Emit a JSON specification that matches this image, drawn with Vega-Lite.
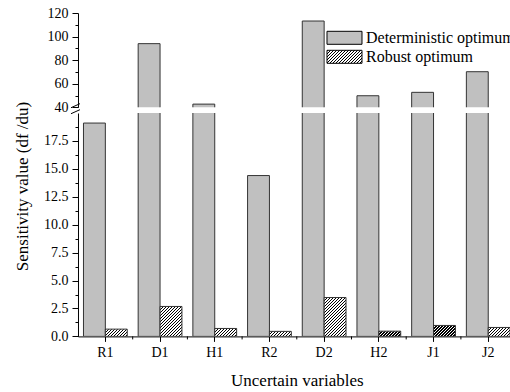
{
  "$schema": "https://vega.github.io/schema/vega-lite/v6.json",
  "padding": {"left": 13, "top": 6, "right": 0, "bottom": 0},
  "spacing": 5,
  "bounds": "flush",
  "resolve": {"scale": {"fill": "independent"}, "legend": {"fill": "independent"}},
  "config": {
    "font": "Liberation Serif",
    "view": {"stroke": null},
    "axis": {
      "grid": false,
      "domainColor": "black",
      "tickColor": "black",
      "labelColor": "black",
      "titleColor": "black",
      "labelFont": "Liberation Serif",
      "titleFont": "Liberation Serif",
      "labelFontSize": 14,
      "titleFontSize": 17,
      "titleFontWeight": "normal",
      "labelOverlap": false
    },
    "legend": {
      "labelFont": "Liberation Serif",
      "labelFontSize": 16,
      "labelColor": "black"
    }
  },
  "params": [
    {
      "name": "hatch",
      "value": [
        {"offset": 0, "color": "#000"}, {"offset": 0.015833, "color": "#000"}, {"offset": 0.015833, "color": "#fff"}, {"offset": 0.041667, "color": "#fff"},
        {"offset": 0.041667, "color": "#000"}, {"offset": 0.0575, "color": "#000"}, {"offset": 0.0575, "color": "#fff"}, {"offset": 0.083333, "color": "#fff"},
        {"offset": 0.083333, "color": "#000"}, {"offset": 0.099167, "color": "#000"}, {"offset": 0.099167, "color": "#fff"}, {"offset": 0.125, "color": "#fff"},
        {"offset": 0.125, "color": "#000"}, {"offset": 0.140833, "color": "#000"}, {"offset": 0.140833, "color": "#fff"}, {"offset": 0.166667, "color": "#fff"},
        {"offset": 0.166667, "color": "#000"}, {"offset": 0.1825, "color": "#000"}, {"offset": 0.1825, "color": "#fff"}, {"offset": 0.208333, "color": "#fff"},
        {"offset": 0.208333, "color": "#000"}, {"offset": 0.224167, "color": "#000"}, {"offset": 0.224167, "color": "#fff"}, {"offset": 0.25, "color": "#fff"},
        {"offset": 0.25, "color": "#000"}, {"offset": 0.265833, "color": "#000"}, {"offset": 0.265833, "color": "#fff"}, {"offset": 0.291667, "color": "#fff"},
        {"offset": 0.291667, "color": "#000"}, {"offset": 0.3075, "color": "#000"}, {"offset": 0.3075, "color": "#fff"}, {"offset": 0.333333, "color": "#fff"},
        {"offset": 0.333333, "color": "#000"}, {"offset": 0.349167, "color": "#000"}, {"offset": 0.349167, "color": "#fff"}, {"offset": 0.375, "color": "#fff"},
        {"offset": 0.375, "color": "#000"}, {"offset": 0.390833, "color": "#000"}, {"offset": 0.390833, "color": "#fff"}, {"offset": 0.416667, "color": "#fff"},
        {"offset": 0.416667, "color": "#000"}, {"offset": 0.4325, "color": "#000"}, {"offset": 0.4325, "color": "#fff"}, {"offset": 0.458333, "color": "#fff"},
        {"offset": 0.458333, "color": "#000"}, {"offset": 0.474167, "color": "#000"}, {"offset": 0.474167, "color": "#fff"}, {"offset": 0.5, "color": "#fff"},
        {"offset": 0.5, "color": "#000"}, {"offset": 0.515833, "color": "#000"}, {"offset": 0.515833, "color": "#fff"}, {"offset": 0.541667, "color": "#fff"},
        {"offset": 0.541667, "color": "#000"}, {"offset": 0.5575, "color": "#000"}, {"offset": 0.5575, "color": "#fff"}, {"offset": 0.583333, "color": "#fff"},
        {"offset": 0.583333, "color": "#000"}, {"offset": 0.599167, "color": "#000"}, {"offset": 0.599167, "color": "#fff"}, {"offset": 0.625, "color": "#fff"},
        {"offset": 0.625, "color": "#000"}, {"offset": 0.640833, "color": "#000"}, {"offset": 0.640833, "color": "#fff"}, {"offset": 0.666667, "color": "#fff"},
        {"offset": 0.666667, "color": "#000"}, {"offset": 0.6825, "color": "#000"}, {"offset": 0.6825, "color": "#fff"}, {"offset": 0.708333, "color": "#fff"},
        {"offset": 0.708333, "color": "#000"}, {"offset": 0.724167, "color": "#000"}, {"offset": 0.724167, "color": "#fff"}, {"offset": 0.75, "color": "#fff"},
        {"offset": 0.75, "color": "#000"}, {"offset": 0.765833, "color": "#000"}, {"offset": 0.765833, "color": "#fff"}, {"offset": 0.791667, "color": "#fff"},
        {"offset": 0.791667, "color": "#000"}, {"offset": 0.8075, "color": "#000"}, {"offset": 0.8075, "color": "#fff"}, {"offset": 0.833333, "color": "#fff"},
        {"offset": 0.833333, "color": "#000"}, {"offset": 0.849167, "color": "#000"}, {"offset": 0.849167, "color": "#fff"}, {"offset": 0.875, "color": "#fff"},
        {"offset": 0.875, "color": "#000"}, {"offset": 0.890833, "color": "#000"}, {"offset": 0.890833, "color": "#fff"}, {"offset": 0.916667, "color": "#fff"},
        {"offset": 0.916667, "color": "#000"}, {"offset": 0.9325, "color": "#000"}, {"offset": 0.9325, "color": "#fff"}, {"offset": 0.958333, "color": "#fff"},
        {"offset": 0.958333, "color": "#000"}, {"offset": 0.974167, "color": "#000"}, {"offset": 0.974167, "color": "#fff"}, {"offset": 1, "color": "#fff"}
      ]
    }
  ],
  "datasets": {
    "bars": [
      {"cat": "R1", "series": "Deterministic optimum", "value": 19.1},
      {"cat": "R1", "series": "Robust optimum", "value": 0.65},
      {"cat": "D1", "series": "Deterministic optimum", "value": 94},
      {"cat": "D1", "series": "Robust optimum", "value": 2.68},
      {"cat": "H1", "series": "Deterministic optimum", "value": 42.7},
      {"cat": "H1", "series": "Robust optimum", "value": 0.71},
      {"cat": "R2", "series": "Deterministic optimum", "value": 14.4},
      {"cat": "R2", "series": "Robust optimum", "value": 0.45},
      {"cat": "D2", "series": "Deterministic optimum", "value": 113.2},
      {"cat": "D2", "series": "Robust optimum", "value": 3.48},
      {"cat": "H2", "series": "Deterministic optimum", "value": 49.8},
      {"cat": "H2", "series": "Robust optimum", "value": 0.47},
      {"cat": "J1", "series": "Deterministic optimum", "value": 52.7},
      {"cat": "J1", "series": "Robust optimum", "value": 0.98},
      {"cat": "J2", "series": "Deterministic optimum", "value": 70.2},
      {"cat": "J2", "series": "Robust optimum", "value": 0.8}
    ],
    "breakmark": [{"cat": "R1"}]
  },
  "vconcat": [
    {
      "width": 437.6,
      "height": 94.3,
      "layer": [
        {
          "data": {"name": "bars"},
          "mark": {"type": "bar", "clip": true, "stroke": "#333", "strokeWidth": 1},
          "encoding": {
            "x": {
              "field": "cat", "type": "nominal",
              "sort": ["R1", "D1", "H1", "R2", "D2", "H2", "J1", "J2"],
              "scale": {"paddingInner": 0.2, "paddingOuter": 0.1},
              "axis": null
            },
            "xOffset": {"field": "series", "type": "nominal", "sort": ["Deterministic optimum", "Robust optimum"]},
            "y": {
              "field": "value", "type": "quantitative",
              "scale": {"domain": [40, 120], "zero": false, "nice": false},
              "axis": {
                "title": null,
                "values": [40, 50, 60, 70, 80, 90, 100, 110, 120],
                "labelExpr": "datum.value % 20 == 0 ? datum.label : ''",
                "tickSize": {"condition": {"test": "datum.value % 20 == 0", "value": 6}, "value": 3},
                "labelPadding": 4,
                "labelOverlap": false
              }
            },
            "y2": {"datum": 0},
            "fill": {
              "field": "series", "type": "nominal",
              "scale": {
                "domain": ["Deterministic optimum", "Robust optimum"],
                "range": ["#c0c0c0", {"expr": "{gradient:'linear',x1:0,y1:0,x2:1.808,y2:0.671,stops:hatch}"}]
              },
              "legend": {
                "title": null,
                "orient": "none",
                "legendX": 256,
                "legendY": 14.3,
                "padding": 0,
                "rowPadding": 0,
                "symbolType": "M-1.75,-0.65H1.75V0.65H-1.75Z",
                "symbolSize": 400,
                "symbolStrokeColor": "black",
                "symbolStrokeWidth": 1,
                "labelOffset": 11
              }
            }
          }
        },
        {
          "data": {"name": "breakmark"},
          "mark": {"type": "point", "shape": "M-1,0.45L1,-0.45", "size": 81, "filled": false, "stroke": "black", "strokeWidth": 1, "opacity": 1, "xOffset": -8, "yOffset": -1.6, "clip": false},
          "encoding": {
            "x": {"field": "cat", "type": "nominal", "bandPosition": 0, "sort": ["R1", "D1", "H1", "R2", "D2", "H2", "J1", "J2"]},
            "y": {
              "datum": 40, "type": "quantitative",
              "axis": {
                "title": null,
                "values": [40, 50, 60, 70, 80, 90, 100, 110, 120],
                "labelExpr": "datum.value % 20 == 0 ? datum.label : ''",
                "tickSize": {"condition": {"test": "datum.value % 20 == 0", "value": 6}, "value": 3},
                "labelPadding": 4,
                "labelOverlap": false
              }
            }
          }
        }
      ]
    },
    {
      "width": 437.6,
      "height": 223.4,
      "layer": [
        {
          "data": {"name": "bars"},
          "mark": {"type": "bar", "clip": true, "stroke": "#333", "strokeWidth": 1},
          "encoding": {
            "x": {
              "field": "cat", "type": "nominal",
              "sort": ["R1", "D1", "H1", "R2", "D2", "H2", "J1", "J2"],
              "scale": {"paddingInner": 0.2, "paddingOuter": 0.1},
              "axis": {"title": "Uncertain variables", "labelAngle": 0, "tickSize": 5, "labelPadding": 4, "titlePadding": 13}
            },
            "xOffset": {"field": "series", "type": "nominal", "sort": ["Deterministic optimum", "Robust optimum"]},
            "y": {
              "field": "value", "type": "quantitative",
              "scale": {"domain": [0, 20], "nice": false},
              "axis": {
                "title": "Sensitivity value (df /du)",
                "titleY": 73,
                "values": [0, 1.25, 2.5, 3.75, 5, 6.25, 7.5, 8.75, 10, 11.25, 12.5, 13.75, 15, 16.25, 17.5, 18.75],
                "labelExpr": "datum.value % 2.5 == 0 ? format(datum.value, '.1f') : ''",
                "tickSize": {"condition": {"test": "datum.value % 2.5 == 0", "value": 6}, "value": 3},
                "labelPadding": 4,
                "labelOverlap": false,
                "titlePadding": 12
              }
            },
            "y2": {"datum": 0},
            "fill": {
              "condition": {"test": "datum.series == 'Deterministic optimum'", "value": "#c0c0c0"},
              "field": "cat", "type": "nominal",
              "legend": null,
              "scale": {
                "domain": ["R1", "D1", "H1", "R2", "D2", "H2", "J1", "J2"],
                "range": [
                  {"expr": "{gradient:'linear',x1:0,y1:0,x2:2.965,y2:0.984,stops:hatch}"},
                  {"expr": "{gradient:'linear',x1:0,y1:0,x2:1.146,y2:1.568,stops:hatch}"},
                  {"expr": "{gradient:'linear',x1:0,y1:0,x2:2.909,y2:1.054,stops:hatch}"},
                  {"expr": "{gradient:'linear',x1:0,y1:0,x2:3.126,y2:0.719,stops:hatch}"},
                  {"expr": "{gradient:'linear',x1:0,y1:0,x2:0.792,y2:1.407,stops:hatch}"},
                  {"expr": "{gradient:'linear',x1:0,y1:0,x2:3.112,y2:0.747,stops:hatch}"},
                  {"expr": "{gradient:'linear',x1:0,y1:0,x2:2.632,y2:1.317,stops:hatch}"},
                  {"expr": "{gradient:'linear',x1:0,y1:0,x2:2.820,y2:1.152,stops:hatch}"}
                ]
              }
            }
          }
        },
        {
          "data": {"name": "bars"},
          "transform": [{"filter": "datum.series == 'Deterministic optimum'"}],
          "mark": {"type": "rule", "color": "black", "strokeWidth": 1, "xOffset": 5.47, "clip": false},
          "encoding": {
            "x": {"field": "cat", "type": "nominal", "bandPosition": 1, "sort": ["R1", "D1", "H1", "R2", "D2", "H2", "J1", "J2"]},
            "y": {
              "datum": 0, "type": "quantitative",
              "axis": {
                "title": "Sensitivity value (df /du)",
                "titleY": 73,
                "values": [0, 1.25, 2.5, 3.75, 5, 6.25, 7.5, 8.75, 10, 11.25, 12.5, 13.75, 15, 16.25, 17.5, 18.75],
                "labelExpr": "datum.value % 2.5 == 0 ? format(datum.value, '.1f') : ''",
                "tickSize": {"condition": {"test": "datum.value % 2.5 == 0", "value": 6}, "value": 3},
                "labelPadding": 4,
                "labelOverlap": false,
                "titlePadding": 12
              }
            },
            "y2": {"datum": -0.27}
          }
        },
        {
          "data": {"name": "breakmark"},
          "mark": {"type": "point", "shape": "M-1,0.45L1,-0.45", "size": 81, "filled": false, "stroke": "black", "strokeWidth": 1, "opacity": 1, "xOffset": -8, "yOffset": -1.3, "clip": false},
          "encoding": {
            "x": {"field": "cat", "type": "nominal", "bandPosition": 0, "sort": ["R1", "D1", "H1", "R2", "D2", "H2", "J1", "J2"]},
            "y": {
              "datum": 20, "type": "quantitative",
              "axis": {
                "title": "Sensitivity value (df /du)",
                "titleY": 73,
                "values": [0, 1.25, 2.5, 3.75, 5, 6.25, 7.5, 8.75, 10, 11.25, 12.5, 13.75, 15, 16.25, 17.5, 18.75],
                "labelExpr": "datum.value % 2.5 == 0 ? format(datum.value, '.1f') : ''",
                "tickSize": {"condition": {"test": "datum.value % 2.5 == 0", "value": 6}, "value": 3},
                "labelPadding": 4,
                "labelOverlap": false,
                "titlePadding": 12
              }
            }
          }
        }
      ]
    }
  ]
}
